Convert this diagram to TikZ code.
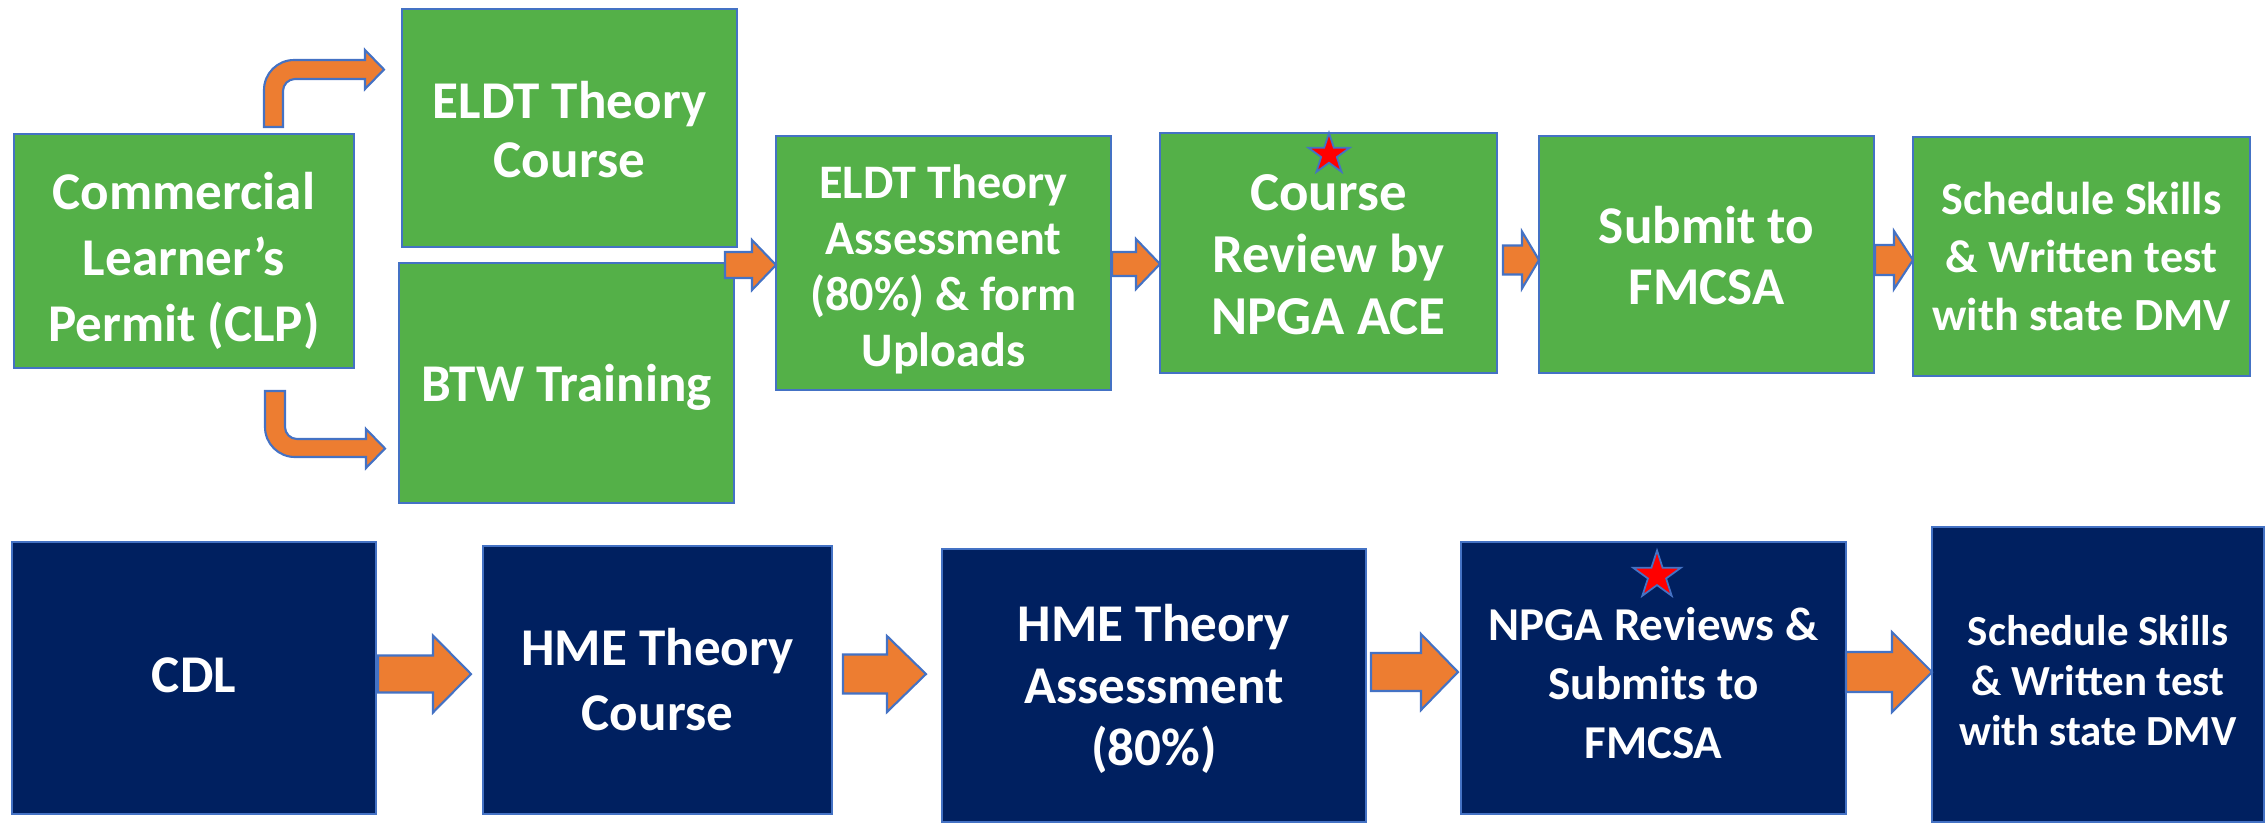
\documentclass[tikz,border=0pt]{standalone}
\usepackage{fontspec}
\setmainfont{Carlito}
\usetikzlibrary{fit,calc,shapes.geometric}
\definecolor{gboxc}{RGB}{84,176,72}
\definecolor{nboxc}{RGB}{0,32,96}
\definecolor{arrc}{RGB}{237,125,49}
\definecolor{edgec}{RGB}{68,114,196}
\tikzset{
  gbox/.style={draw=edgec, fill=gboxc, line width=0.6pt, inner sep=0pt, outer sep=0pt},
  nbox/.style={draw=edgec, fill=nboxc, line width=0.6pt, inner sep=0pt, outer sep=0pt},
  boxtext/.style={text=white, align=center, inner sep=0pt},
  arr/.style={fill=arrc, draw=edgec, line width=0.6pt, line join=miter},
  redstar/.style={star, star points=5, star point ratio=2.618, fill=red, draw=edgec, line width=0.5pt, inner sep=0pt, outer sep=0pt}
}
\newcommand\pxfont[2]{\fontsize{#1}{#2}\selectfont\bfseries}
% style, name, x1, y1, x2, y2, font, text shift, text
\newcommand\bx[9]{\node[#1, fit={(#3,#4)(#5,#6)}] (#2) {};
  \node[boxtext, font={#7}] (#2-t) at ($(#2.center)+(0,#8)$) {#9};}
\newcommand\barrow[8]{%
  \draw[arr] ($(#1.east |- 0,#5)+(#2,-#6)$) -- ($(#3.west |- 0,#5)+(#4-#8,-#6)$)
    -- ($(#3.west |- 0,#5)+(#4-#8,-#7)$) -- ($(#3.west |- 0,#5)+(#4,0)$)
    -- ($(#3.west |- 0,#5)+(#4-#8,#7)$) -- ($(#3.west |- 0,#5)+(#4-#8,#6)$)
    -- ($(#1.east |- 0,#5)+(#2,#6)$) -- cycle;}
\begin{document}
\begin{tikzpicture}[x=0.01cm, y=-0.01cm]
\useasboundingbox (0,0) rectangle (2266,823);
% top row
\bx{gbox}{clp}{14}{134}{354}{368}{\pxfont{15.1pt}{18.8pt}}{10}{Commercial\\Learner’s\\Permit (CLP)}
\bx{gbox}{eldt}{402}{9}{737}{247}{\pxfont{15.1pt}{16.8pt}}{2}{ELDT Theory\\Course}
\bx{gbox}{btw}{399}{263}{734}{503}{\pxfont{15.1pt}{18pt}}{4}{BTW Training}
\bx{gbox}{asm}{776}{136}{1111}{390}{\pxfont{13.7pt}{15.9pt}}{6}{ELDT Theory\\Assessment\\(80\%) \& form\\Uploads}
\bx{gbox}{rev}{1160}{133}{1497}{373}{\pxfont{15.6pt}{17.6pt}}{2}{Course\\Review by\\NPGA ACE}
\bx{gbox}{sub}{1539}{136}{1874}{373}{\pxfont{15.1pt}{17.6pt}}{1}{Submit to\\FMCSA}
\bx{gbox}{sch}{1913}{137}{2250}{376}{\pxfont{13.1pt}{16.5pt}}{0}{Schedule Skills\\\& Written test\\with state DMV}
% bottom row
\bx{nbox}{cdl}{12}{542}{376}{814}{\pxfont{15.1pt}{18pt}}{-3}{CDL}
\bx{nbox}{hme}{483}{546}{832}{814}{\pxfont{15.1pt}{18.5pt}}{0}{HME Theory\\Course}
\bx{nbox}{hma}{942}{549}{1366}{822}{\pxfont{15.1pt}{17.6pt}}{3}{HME Theory\\Assessment\\(80\%)}
\bx{nbox}{npga}{1461}{542}{1846}{814}{\pxfont{13.4pt}{16.8pt}}{5}{NPGA Reviews \&\\Submits to\\FMCSA}
\bx{nbox}{sch2}{1932}{527}{2264}{822}{\pxfont{12.2pt}{14.3pt}}{6}{Schedule Skills\\\& Written test\\with state DMV}
% bent arrows from CLP
\draw[arr] (264,127) -- (264,90) .. controls (264,73.4) and (277.4,60) .. (294,60) -- (365,60) -- (365,50)
  -- (384,69.5) -- (365,89) -- (365,79) -- (295,79) .. controls (288.4,79) and (283,84.4) .. (283,91) -- (283,127) -- cycle;
\draw[arr] (265,391) -- (265,427) .. controls (265,443.6) and (278.4,457) .. (295,457) -- (366,457) -- (366,468)
  -- (385,448.5) -- (366,429) -- (366,439) -- (297,439) .. controls (290.4,439) and (285,433.6) .. (285,427) -- (285,391) -- cycle;
% straight block arrows
\barrow{eldt}{-12}{asm}{0}{265}{13}{25}{24}
\barrow{asm}{1}{rev}{0}{264}{12}{25}{24}
\barrow{rev}{6}{sub}{0}{260}{14.5}{28.5}{17}
\barrow{sub}{1}{sch}{0}{260}{15}{29}{19}
\barrow{cdl}{2}{hme}{-12}{674}{18.5}{38.5}{38}
\barrow{hme}{11}{hma}{-16}{674}{19.5}{38}{39}
\barrow{hma}{5}{npga}{-3}{672}{19}{38}{37}
\barrow{npga}{0}{sch2}{0}{672}{20}{40}{40}
% stars
\node[redstar, minimum size=0.43cm] (star1) at (1329,154.5) {};
\node[redstar, minimum size=0.5cm] (star2) at (1657,575.5) {};
\end{tikzpicture}
\end{document}
